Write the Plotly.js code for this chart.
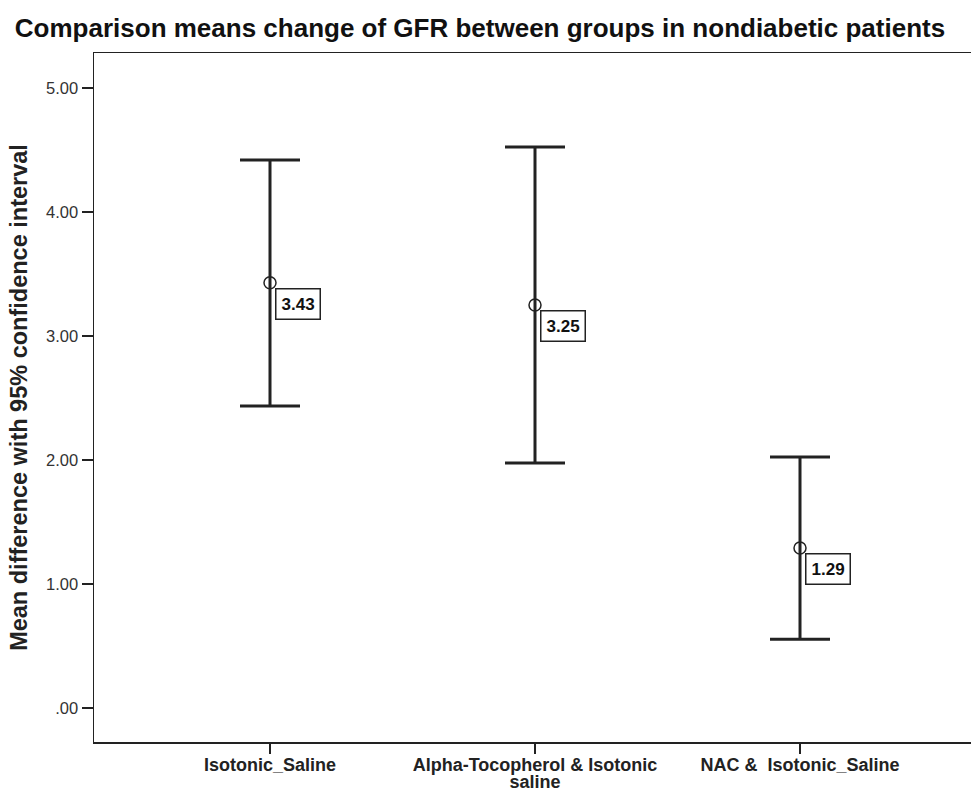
<!DOCTYPE html>
<html>
<head>
<meta charset="utf-8">
<script src="https://cdn.plot.ly/plotly-3.0.1.min.js"></script>
<style>html,body{margin:0;padding:0;background:#fff;overflow:hidden}</style>
</head>
<body>
<div id="chart" style="width:990px;height:789px"></div>
<script>
const categories = ["Isotonic_Saline", "Alpha-Tocopherol & Isotonic<br>saline", "NAC &  Isotonic_Saline"];
const means = [3.43, 3.25, 1.29];
const upperCI = [4.42, 4.525, 2.025];
const lowerCI = [2.435, 1.975, 0.555];
const meanLabels = ["3.43", "3.25", "1.29"];
const yTickVals = [0, 1, 2, 3, 4, 5];
const yTickText = [".00", "1.00", "2.00", "3.00", "4.00", "5.00"];

const xs = categories.map((c, i) => i);
const ink = "#222222";

const trace = {
  type: "scatter",
  mode: "markers",
  x: xs,
  y: means,
  marker: {symbol: "circle-open", size: 12, color: ink, line: {width: 1.5, color: ink}},
  error_y: {
    type: "data",
    symmetric: false,
    array: upperCI.map((u, i) => u - means[i]),
    arrayminus: means.map((m, i) => m - lowerCI[i]),
    color: ink,
    thickness: 3,
    width: 30
  },
  hoverinfo: "skip",
  showlegend: false
};

const annotations = meanLabels.map((t, i) => ({
  x: xs[i], y: means[i], xref: "x", yref: "y",
  text: "<b>" + t + "</b>",
  showarrow: false,
  xanchor: "left", yanchor: "top",
  xshift: 5, yshift: -5,
  font: {family: "Liberation Sans, Arial, sans-serif", size: 17, color: "#111"},
  bordercolor: ink, borderwidth: 1.5, borderpad: 5, bgcolor: "#fff"
}));

const layout = {
  width: 990, height: 789,
  margin: {l: 94, r: 0, t: 53, b: 47, pad: 0},
  paper_bgcolor: "#fff", plot_bgcolor: "#fff",
  font: {family: "Liberation Sans, Arial, sans-serif", color: "#222"},
  title: {
    text: "<b>Comparison means change of GFR between groups in nondiabetic patients</b>",
    font: {family: "Liberation Sans, Arial, sans-serif", size: 26, color: "#111"},
    x: 480 / 990, xanchor: "center", xref: "container",
    y: 1 - 28 / 789, yanchor: "middle", yref: "container"
  },
  xaxis: {
    range: [-(270 - 94) / 265, (990 - 270) / 265],
    tickvals: xs, ticktext: categories.map(c => "<b>" + c + "</b>"),
    ticks: "outside", ticklen: 10, tickwidth: 1.5, tickcolor: ink,
    tickfont: {size: 18, color: "#222"},
    ticklabelstandoff: -4,
    showline: true, linecolor: ink, linewidth: 1.5, mirror: true,
    showgrid: false, zeroline: false, fixedrange: true
  },
  yaxis: {
    range: [-34 / 124, 655 / 124],
    tickvals: yTickVals, ticktext: yTickText,
    ticks: "outside", ticklen: 11, tickwidth: 1.5, tickcolor: ink,
    tickfont: {size: 16.5, color: "#333"},
    showline: true, linecolor: ink, linewidth: 1.5, mirror: false,
    showgrid: false, zeroline: false, fixedrange: true,
    title: {
      text: "<b>Mean difference with 95% confidence interval</b>",
      font: {size: 23.5, color: "#222"},
      standoff: 12
    }
  },
  annotations: annotations
};

Plotly.newPlot("chart", [trace], layout, {displayModeBar: false, staticPlot: true}).then(gd => {
  // tighten the line spacing of the two-line category label, as in the reference
  gd.querySelectorAll(".xtick text tspan.line").forEach((ts, i, all) => {
    const dy = ts.getAttribute("dy");
    if (dy && parseFloat(dy) > 0) ts.setAttribute("dy", (parseFloat(dy) * 0.72) + "em");
  });
});
</script>
</body>
</html>
